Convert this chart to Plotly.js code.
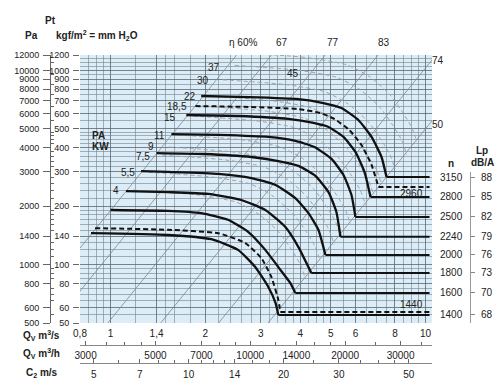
<!DOCTYPE html>
<html><head><meta charset="utf-8">
<script src="https://cdn.plot.ly/plotly-3.0.1.min.js"></script>
<style>html,body{margin:0;padding:0;background:#fff}#chart{width:500px;height:381px}</style>
</head><body><div id="chart"></div>
<script>
// ---------- axis data ----------
const qTicks = [0.8, 1, 1.4, 2, 3, 4, 5, 6, 8, 10];
const qTickText = ['0,8', '1', '1,4', '2', '3', '4', '5', '6', '8', '10'];
const qGrid = [0.85, 0.9, 0.95, 1.2, 1.5, 1.6, 1.8, 2.2, 2.4, 2.6, 2.8, 3.2, 3.4, 3.6, 3.8, 4.25, 4.5, 4.75, 5.5, 6.5, 7, 7.5, 8.5, 9, 9.5];
const pTicks = [50, 60, 80, 100, 140, 200, 300, 400, 500, 600, 700, 800, 900, 1000, 1200];
const pGrid = [55, 65, 70, 75, 85, 90, 95, 110, 120, 130, 150, 160, 170, 180, 190, 220, 240, 260, 280, 320, 340, 360, 380, 420, 440, 460, 480, 550, 650, 750, 850, 950, 1050, 1100, 1150];
const paTicks = [500, 600, 800, 1000, 1400, 2000, 3000, 4000, 5000, 6000, 7000, 8000, 9000, 10000, 12000];
const paMinor = [550, 650, 700, 750, 850, 900, 950, 1100, 1200, 1300, 1500, 1600, 1700, 1800, 1900, 2200, 2400, 2600, 2800, 3200, 3400, 3600, 3800, 4200, 4400, 4600, 4800, 5500, 6500, 7500, 8500, 9500, 11000];
const qhTicks = [3000, 5000, 7000, 10000, 14000, 20000, 30000];
const qhMinor = [3500, 4000, 4500, 6000, 8000, 9000, 12000, 16000, 18000, 25000, 35000];
const c2Ticks = [5, 7, 10, 14, 20, 30, 50];
const c2Minor = [6, 8, 9, 11, 12, 13, 16, 18, 25, 35, 40, 45];

// ---------- efficiency (system) lines P = k*Q^2 ----------
const effLabels = ['η 60%', '67', '77', '83', '74', '50'];
const effK = [190, 114, 52, 24, 10.3, 5.0];

// ---------- fan curves (Q m3/s, Pt kgf/m2) ----------
const speeds = [3150, 2960, 2800, 2500, 2240, 2000, 1800, 1600, 1440, 1400];
const speedDashed = [false, true, false, false, false, false, false, false, true, false];
const soundLp = [88, null, 85, 82, 79, 76, 73, 70, null, 68];
const q3150 = [1.94, 2.74, 3.95, 4.74, 5.41, 6.12, 6.74, 7.25, 7.52];
const p3150 = [738, 729, 712, 679, 640, 555, 454, 358, 282];
const q2960 = [1.86, 2.74, 3.95, 4.64, 5.14, 5.73, 6.26, 6.74, 7.09];
const p2960 = [655, 648, 632, 603, 562, 493, 413, 326, 251];
const q2800 = [1.74, 2.54, 3.67, 4.41, 4.92, 5.49, 5.99, 6.40, 6.69];
const p2800 = [589, 582, 562, 536, 511, 454, 380, 300, 223];
const q2500 = [1.56, 2.20, 3.17, 3.86, 4.44, 5.03, 5.49, 5.82, 5.99];
const p2500 = [470, 465, 454, 433, 403, 350, 289, 228, 176];
const q2240 = [1.40, 1.97, 2.80, 3.41, 3.95, 4.47, 4.92, 5.21, 5.37];
const p2240 = [375, 371, 358, 341, 322, 286, 236, 187, 139];
const q2000 = [1.25, 1.52, 2.20, 2.80, 3.34, 3.86, 4.25, 4.57, 4.74, 4.81];
const p2000 = [303, 300, 293, 279, 257, 220, 184, 151, 123, 112];
const q1800 = [1.12, 1.52, 2.04, 2.60, 3.10, 3.59, 3.95, 4.25, 4.34];
const p1800 = [239, 236, 231, 215, 191, 156, 123, 97, 90.5];
const q1600 = [1.00, 1.52, 1.94, 2.36, 2.74, 3.10, 3.41, 3.72, 3.86];
const p1600 = [191, 189, 184, 170, 147, 119, 97, 80.4, 71.4];
const q1440 = [0.893, 1.52, 2.20, 2.68, 3.01, 3.24, 3.41, 3.46];
const p1440 = [154, 151, 145, 129, 108, 86.3, 65.7, 56.9];
const q1400 = [0.867, 1.52, 2.09, 2.54, 2.88, 3.17, 3.34, 3.41];
const p1400 = [145, 142, 135, 119, 97.1, 76.6, 63.4, 55.0];
const qRightEdge = 10.3;

// ---------- absorbed power lines (kW) ----------
const kwLabels = ['4', '5,5', '7,5', '9', '11', '15', '18,5', '22', '30', '37', '45'];
const kw4Q = [1.18, 1.90, 2.50, 2.95, 3.42, 3.76, 4.01, 4.16];
const kw4P = [242, 228, 210, 182, 147, 119, 99.7, 84.1];
const kw55Q = [1.32, 2.11, 2.78, 3.28, 3.80, 4.19, 4.47, 4.63];
const kw55P = [299, 282, 260, 225, 182, 147, 123, 104];
const kw75Q = [1.46, 2.34, 3.07, 3.63, 4.21, 4.63, 4.94, 5.12];
const kw75P = [366, 345, 318, 276, 223, 180, 151, 127];
const kw9Q = [1.53, 2.45, 3.22, 3.81, 4.41, 4.86, 5.18, 5.37];
const kw9P = [403, 380, 350, 303, 246, 198, 166, 140];
const kw11Q = [1.64, 2.63, 3.46, 4.09, 4.74, 5.22, 5.56, 5.77];
const kw11P = [465, 438, 403, 350, 283, 228, 192, 162];
const kw15Q = [1.83, 2.95, 3.87, 4.58, 5.30, 5.83, 6.22, 6.45];
const kw15P = [582, 548, 505, 438, 354, 286, 240, 202];
const kw185Q = [1.95, 3.13, 4.11, 4.86, 5.62, 6.19, 6.60, 6.85];
const kw185P = [655, 617, 568, 493, 399, 322, 270, 228];
const kw22Q = [2.07, 3.32, 4.36, 5.15, 5.97, 6.57, 7.01, 7.27];
const kw22P = [738, 695, 640, 555, 449, 362, 304, 256];
const kw30Q = [2.27, 3.65, 4.80, 5.67, 6.57, 7.23, 7.71, 8.00];
const kw30P = [894, 843, 775, 673, 545, 439, 368, 311];
const kw37Q = [2.48, 3.98, 5.23, 6.18, 7.16, 7.88, 8.40, 8.72];
const kw37P = [1061, 1000, 920, 799, 646, 521, 437, 369];
const kw45Q = [2.67, 4.28, 5.63, 6.66, 7.71, 8.48, 9.05, 9.39];
const kw45P = [1230, 1160, 1067, 926, 750, 604, 507, 428];

// ---------- build ----------
const curvesQ = [q3150, q2960, q2800, q2500, q2240, q2000, q1800, q1600, q1440, q1400];
const curvesP = [p3150, p2960, p2800, p2500, p2240, p2000, p1800, p1600, p1440, p1400];
const kwQ = [kw4Q, kw55Q, kw75Q, kw9Q, kw11Q, kw15Q, kw185Q, kw22Q, kw30Q, kw37Q, kw45Q];
const kwP = [kw4P, kw55P, kw75P, kw9P, kw11P, kw15P, kw185P, kw22P, kw30P, kw37P, kw45P];

const FONT = 'Liberation Sans, Arial, Helvetica, sans-serif';
const traces = [];

effK.forEach(k => {
  traces.push({x: [0.5, 14], y: [k * 0.25, k * 196], mode: 'lines', line: {color: '#7e8890', width: 0.8}, hoverinfo: 'skip'});
});
kwQ.forEach((q, i) => {
  traces.push({x: q, y: kwP[i], mode: 'lines', line: {color: '#9aa4ac', width: 1, dash: '4px,3px', shape: 'spline', smoothing: 0.6}, hoverinfo: 'skip'});
});
curvesQ.forEach((q, i) => {
  const d = speedDashed[i];
  const ln = {color: '#111', width: d ? 2 : 2.3, dash: d ? '5px,3px' : 'solid', shape: 'spline', smoothing: 0.5};
  traces.push({x: q, y: curvesP[i], mode: 'lines', line: ln, hoverinfo: 'skip'});
  const pe = curvesP[i][curvesP[i].length - 1];
  traces.push({x: [q[q.length - 1], qRightEdge], y: [pe, pe], mode: 'lines', line: {color: '#111', width: 2, dash: d ? '5px,3px' : 'solid'}, hoverinfo: 'skip'});
});
traces.push({x: [], y: [], xaxis: 'x2', yaxis: 'y', hoverinfo: 'skip'});
traces.push({x: [], y: [], xaxis: 'x3', yaxis: 'y', hoverinfo: 'skip'});
traces.push({x: [], y: [], xaxis: 'x', yaxis: 'y2', hoverinfo: 'skip'});
traces.push({x: [], y: [], xaxis: 'x4', yaxis: 'y3', hoverinfo: 'skip'});

const lpVals = [], lpText = [];
soundLp.forEach((v, i) => { if (v !== null) { lpVals.push(curvesP[i][curvesP[i].length - 1]); lpText.push(String(v)); } });

const xL = Math.log10(0.8), xR = 1.0206;
const yB = Math.log10(50), yT = Math.log10(1200);
const gridMajor = '#5a6772', gridMinor = '#74808a';
const axisGrey = '#666';

const annotations = [];
function ann(text, x, y, opts) { annotations.push(Object.assign({text: text, x: x, y: y, xref: 'paper', yref: 'paper', showarrow: false, xanchor: 'center', yanchor: 'middle', font: {family: FONT, size: 10, color: '#222'}}, opts || {})); }
const px = X => (X - 5) / 490, py = Y => (376 - Y) / 321;

ann('<b>Pt</b>', px(50), py(21));
ann('<b>Pa</b>', px(31), py(35));
ann('<b>kgf/m<sup>2</sup> = mm H<sub>2</sub>O</b>', px(97), py(35));
ann('<b>Q<sub>V</sub> m<sup>3</sup>/s</b>', px(41), py(335));
ann('<b>Q<sub>V</sub> m<sup>3</sup>/h</b>', px(41), py(353));
ann('<b>C<sub>2</sub> m/s</b>', px(42), py(373));
ann('<b>PA</b>', px(98), py(135));
ann('<b>KW</b>', px(100), py(146));
ann('<b>n</b>', px(451), py(163));
ann('<b>Lp</b>', px(482), py(150));
ann('<b>dB/A</b>', px(482), py(162));
const effPos = [[243, 42], [282, 42], [333, 42], [384, 42], [438, 60], [438, 124]];
effLabels.forEach((t, i) => ann(t, px(effPos[i][0]), py(effPos[i][1])));
const kwPos = [[116, 190], [128, 172], [143, 156], [151, 146], [159, 135], [170, 117], [177, 106], [190, 96], [203, 80], [214, 67], [293, 73]];
kwLabels.forEach((t, i) => ann(t, px(kwPos[i][0]), py(kwPos[i][1])));
speeds.forEach((n, i) => {
  const pe = curvesP[i][curvesP[i].length - 1];
  if (speedDashed[i]) {
    ann(String(n), px(411), Math.log10(pe), {yref: 'y', yshift: n === 2960 ? -7 : 8});
  } else {
    ann(String(n), px(451), Math.log10(pe), {yref: 'y'});
  }
});

const tf = {size: 9, color: '#222'};
const layout = {
  width: 500, height: 381,
  margin: {l: 5, r: 5, t: 55, b: 5},
  paper_bgcolor: '#ffffff', plot_bgcolor: 'rgba(0,0,0,0)',
  showlegend: false,
  font: {family: FONT, size: 10, color: '#222'},
  shapes: [{type: 'rect', xref: 'x domain', yref: 'y domain', x0: 0, x1: 1, y0: 0, y1: 1, fillcolor: '#dcedf8', line: {width: 0}, layer: 'below'}],
  xaxis: {type: 'log', domain: [px(80), px(432)], range: [xL, xR], anchor: 'y',
    tickvals: qTicks, ticktext: qTickText, ticks: '', showline: false, zeroline: false,
    showgrid: true, gridcolor: gridMajor, gridwidth: 0.8,
    minor: {tickvals: qGrid, showgrid: true, gridcolor: gridMinor, gridwidth: 0.6, ticks: ''},
    tickfont: {size: 10, color: '#222'}, ticklabelstandoff: 3},
  yaxis: {type: 'log', domain: [py(323), 1], range: [yB, yT], anchor: 'x',
    tickvals: pTicks, ticktext: pTicks.map(String), ticks: 'outside', ticklen: 6, tickcolor: axisGrey, tickwidth: 1,
    showline: false, zeroline: false, showgrid: true, gridcolor: gridMajor, gridwidth: 0.8,
    minor: {tickvals: pGrid, showgrid: true, gridcolor: gridMinor, gridwidth: 0.6, ticks: ''},
    tickfont: tf, ticklabelstandoff: 2},
  yaxis2: {type: 'log', overlaying: 'y', anchor: 'free', position: px(50), side: 'left',
    range: [Math.log10(500), Math.log10(12000)], tickvals: paTicks, ticktext: paTicks.map(String),
    ticks: 'outside', ticklen: 7, tickcolor: axisGrey, showline: true, linecolor: axisGrey, linewidth: 1,
    showgrid: false, zeroline: false,
    minor: {tickvals: paMinor, ticks: 'inside', ticklen: 3, tickcolor: axisGrey, showgrid: false},
    tickfont: tf, ticklabelstandoff: 2},
  xaxis2: {type: 'log', overlaying: 'x', anchor: 'free', position: py(345), side: 'bottom',
    range: [xL + Math.log10(3600), xR + Math.log10(3600)], tickvals: qhTicks, ticktext: qhTicks.map(String),
    ticks: 'inside', ticklen: 4, tickcolor: axisGrey, showline: true, linecolor: '#888', linewidth: 1,
    showgrid: false, zeroline: false,
    minor: {tickvals: qhMinor, ticks: 'inside', ticklen: 3, tickcolor: axisGrey, showgrid: false},
    tickfont: {size: 10, color: '#222'}, ticklabelstandoff: 1},
  xaxis3: {type: 'log', overlaying: 'x', anchor: 'free', position: py(363), side: 'bottom',
    range: [xL + Math.log10(5.65), xR + Math.log10(5.65)], tickvals: c2Ticks, ticktext: c2Ticks.map(String),
    ticks: 'inside', ticklen: 4, tickcolor: axisGrey, showline: true, linecolor: '#888', linewidth: 1,
    showgrid: false, zeroline: false,
    minor: {tickvals: c2Minor, ticks: 'inside', ticklen: 3, tickcolor: axisGrey, showgrid: false},
    tickfont: {size: 10, color: '#222'}, ticklabelstandoff: 2},
  xaxis4: {domain: [px(440), px(470)], anchor: 'y3', visible: false, range: [0, 1]},
  yaxis3: {type: 'log', domain: [py(323), py(172)], anchor: 'x4', side: 'right',
    range: [yB, 1.699 + 151 / 194.2], tickvals: lpVals, ticktext: lpText,
    ticks: 'outside', ticklen: 4, tickcolor: '#888', showline: true, linecolor: '#999', linewidth: 1,
    showgrid: false, zeroline: false, tickfont: {size: 10, color: '#222'}, ticklabelstandoff: 4},
  annotations: annotations
};

Plotly.newPlot('chart', traces, layout, {staticPlot: true, displayModeBar: false});
</script>
</body></html>
